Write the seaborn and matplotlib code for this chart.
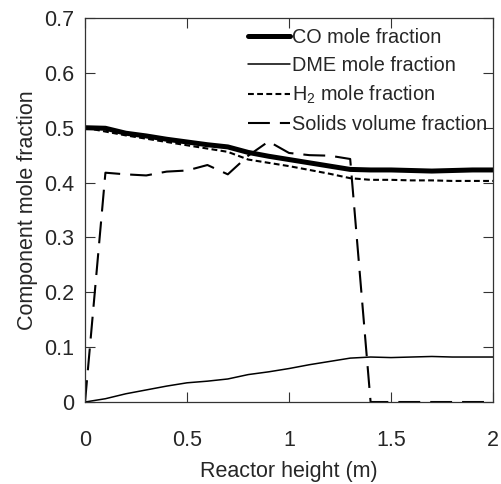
import numpy as np
import pandas as pd
import seaborn as sns
import matplotlib.pyplot as plt

# reactor height (m)
height = [0.0, 0.1, 0.2, 0.3, 0.4, 0.5, 0.6, 0.7, 0.8, 0.9, 1.0,
          1.1, 1.2, 1.3, 1.4, 1.5, 1.6, 1.7, 1.8, 1.9, 2.0]

co_frac = [0.500, 0.499, 0.490, 0.485, 0.479, 0.474, 0.469, 0.465, 0.455, 0.448, 0.442,
           0.436, 0.430, 0.424, 0.423, 0.423, 0.422, 0.421, 0.422, 0.423, 0.423]
dme_frac = [0.000, 0.006, 0.015, 0.022, 0.029, 0.035, 0.038, 0.042, 0.050, 0.055, 0.061,
            0.068, 0.074, 0.080, 0.082, 0.081, 0.082, 0.083, 0.082, 0.082, 0.082]
h2_frac = [0.500, 0.493, 0.486, 0.480, 0.474, 0.468, 0.462, 0.456, 0.442, 0.436, 0.430,
           0.423, 0.416, 0.408, 0.405, 0.405, 0.404, 0.404, 0.403, 0.403, 0.403]
solids_frac = [0.000, 0.418, 0.415, 0.413, 0.420, 0.422, 0.432, 0.415, 0.449, 0.475, 0.454,
               0.450, 0.449, 0.443, 0.000, 0.000, 0.000, 0.000, 0.000, 0.000, 0.000]

xticks = [0, 0.5, 1, 1.5, 2]
yticks = [0, 0.1, 0.2, 0.3, 0.4, 0.5, 0.6, 0.7]

df = pd.DataFrame({"height": height, "co": co_frac, "dme": dme_frac,
                   "h2": h2_frac, "solids": solids_frac})

sns.set_style("ticks")
plt.rcParams["font.family"] = ["Liberation Sans", "DejaVu Sans"]
plt.rcParams["mathtext.fontset"] = "custom"
plt.rcParams["mathtext.rm"] = "Liberation Sans"
plt.rcParams["mathtext.it"] = "Liberation Sans"

fig = plt.figure(figsize=(5.01, 4.84), dpi=100)
ax = fig.add_axes([0.1697, 0.1694, 0.8143, 0.7934])

sns.lineplot(data=df, x="height", y="co", ax=ax, color="black", lw=3.6,
             label="CO mole fraction")
sns.lineplot(data=df, x="height", y="dme", ax=ax, color="black", lw=1.1,
             label="DME mole fraction")
sns.lineplot(data=df, x="height", y="h2", ax=ax, color="black", lw=1.5,
             label="H$_2$ mole fraction")
sns.lineplot(data=df, x="height", y="solids", ax=ax, color="black", lw=1.5,
             label="Solids volume fraction")
ax.lines[2].set_dashes((2.8, 1.6))
ax.lines[3].set_dashes((10.5, 4.8))

ax.set_xlim(0, 2)
ax.set_ylim(0, 0.7)
ax.set_xticks(xticks)
ax.set_yticks(yticks)
ax.set_xticklabels([f"{t:g}" for t in xticks])
ax.set_yticklabels([f"{t:g}" for t in yticks])
ax.tick_params(direction="in", length=7, width=0.8, top=True, right=True,
               labelsize=15.5, color="#333333")
ax.tick_params(axis="x", pad=20)
ax.tick_params(axis="y", pad=8)
for s in ax.spines.values():
    s.set_linewidth(0.9)
    s.set_color("#333333")

ax.set_xlabel("Reactor height (m)", fontsize=15.5, labelpad=7)
ax.set_ylabel("Component mole fraction", fontsize=15.5, labelpad=4)

# legend handles need the same dash patterns
leg = ax.legend(loc="upper left", bbox_to_anchor=(0.40, 0.975), frameon=False,
                fontsize=14.3, handlelength=2.1, handletextpad=0.1,
                borderpad=0, borderaxespad=0, labelspacing=0.45)
leg.get_lines()[2].set_dashes((2.8, 1.6))
leg.get_lines()[3].set_dashes((10.5, 4.8))

fig.savefig("out.png", dpi=100)
